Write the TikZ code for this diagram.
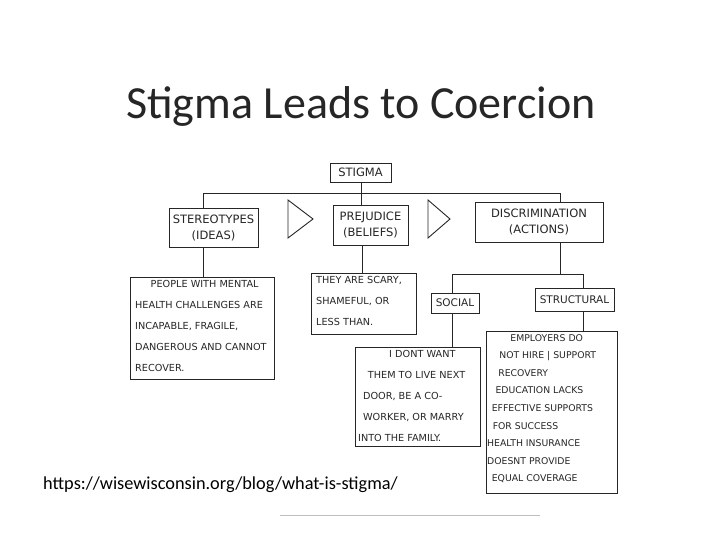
\documentclass[tikz,border=0pt]{standalone}
\usepackage{fontspec}
\setmainfont{Carlito}
\newfontfamily\hand{DejaVu Sans}
\begin{document}
\begin{tikzpicture}[x=1pt,y=-1pt,
  bx/.style={draw=black!85,line width=0.9pt},
  ln/.style={draw=black!85,line width=0.9pt},
  ht/.style={font=\hand\fontsize{9.7}{21}\selectfont,anchor=north west,align=left,inner sep=0pt,text=black!85},
  lb/.style={font=\hand\fontsize{11.5}{16}\selectfont,align=center,inner sep=0pt,text=black!85}]
\useasboundingbox[fill=white] (0,0) rectangle (720,540);
\node[font=\fontsize{46}{50}\selectfont,text=black!85] (title) at (361,106) {Stigma Leads to Coercion};
% boxes
\draw[bx] (330,163) rectangle (391,182); \node[lb] (stig) at (360.5,172.5) {STIGMA};
\draw[bx] (169,208) rectangle (258,247); \node[lb] (ster) at (213.5,227.5) {STEREOTYPES\\(IDEAS)};
\draw[bx] (333,205) rectangle (408,245); \node[lb] (prej) at (370.5,225) {PREJUDICE\\(BELIEFS)};
\draw[bx] (475,202) rectangle (603,242); \node[lb] (disc) at (539,222) {DISCRIMINATION\\(ACTIONS)};
\draw[bx] (431,293) rectangle (479,313); \node[lb,font=\hand\fontsize{10.5}{14}\selectfont] (soc) at (455,303) {SOCIAL};
\draw[bx] (535,288) rectangle (614,311); \node[lb,font=\hand\fontsize{10.5}{14}\selectfont] (str) at (574.5,299.5) {STRUCTURAL};
% triangles
\draw[ln] (288,200) -- (313,219) -- (288,238) -- cycle;
\draw[ln] (428,200) -- (450,219) -- (428,238) -- cycle;
% connectors
\draw[ln] (203,208) -- (203,193) -- (560,193) -- (560,202);
\draw[ln] (361,182) -- (361,205);
\draw[ln] (203,247) -- (203,277);
\draw[ln] (362,245) -- (362,273);
\draw[ln] (560,242) -- (560,274);
\draw[ln] (452,293) -- (452,274) -- (583,274) -- (583,288);
\draw[ln] (452,313) -- (452,347);
\draw[ln] (583,311) -- (583,331);
% text boxes
\draw[bx] (130,277) rectangle (274,379);
\node[ht] (t1) at (135,280) {\hspace{1.6em}PEOPLE WITH MENTAL\\HEALTH CHALLENGES ARE\\INCAPABLE, FRAGILE,\\DANGEROUS AND CANNOT\\RECOVER.};
\draw[bx] (311,273) rectangle (416,334);
\node[ht] (t2) at (316,276) {THEY ARE SCARY,\\SHAMEFUL, OR\\LESS THAN.};
\draw[bx] (355,347) rectangle (480,446);
\node[ht] (t3) at (358,350) {\hspace{3.2em}I DONT WANT\\\hspace{1em}THEM TO LIVE NEXT\\\hspace{0.5em}DOOR, BE A CO-\\\hspace{0.5em}WORKER, OR MARRY\\INTO THE FAMILY.};
\draw[bx] (486,331) rectangle (617,493);
\node[ht,font=\hand\fontsize{9.3}{17.6}\selectfont] (t4) at (487,334) {\hspace{2.5em}EMPLOYERS DO\\\hspace{1.3em}NOT HIRE | SUPPORT\\\hspace{1.2em}RECOVERY\\\hspace{0.9em}EDUCATION LACKS\\\hspace{0.5em}EFFECTIVE SUPPORTS\\\hspace{0.6em}FOR SUCCESS\\HEALTH INSURANCE\\DOESNT PROVIDE\\\hspace{0.5em}EQUAL COVERAGE};
\draw[black!25,line width=1pt] (280,515) -- (540,515);
\node[anchor=base west,font=\fontsize{18.3}{20}\selectfont,inner sep=0pt] (url) at (43,489) {https://wisewisconsin.org/blog/what-is-stigma/};
\end{tikzpicture}
\end{document}
